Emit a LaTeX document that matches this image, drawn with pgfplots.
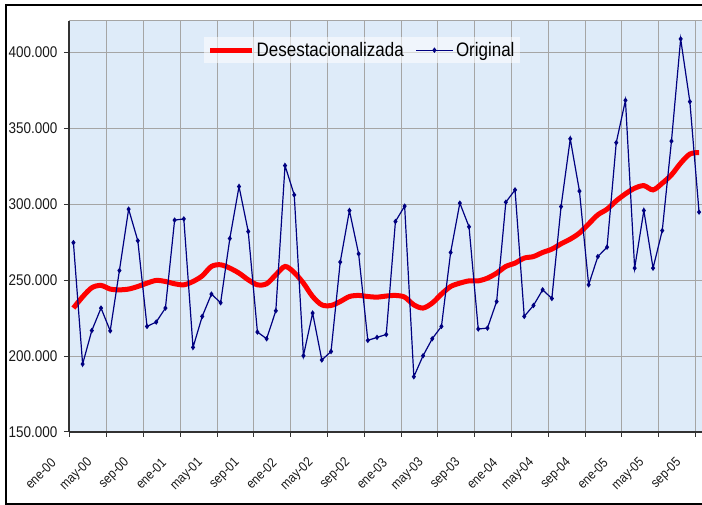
\documentclass[border=0pt]{standalone}
\usepackage{fontspec}
\setmainfont[FakeStretch=0.87]{Liberation Sans}
\usepackage{pgfplots}
\usepackage{pgfplotstable}
\pgfplotsset{compat=1.18}
\definecolor{bgblue}{RGB}{222,235,249}
\definecolor{gridgray}{RGB}{165,165,165}
\definecolor{navyblue}{RGB}{0,0,128}
\definecolor{axisdark}{RGB}{50,50,50}
\pgfplotsset{
  redleg/.style={legend image code/.code={\draw[##1] (0pt,0pt) -- (42pt,0pt);}},
  blueleg/.style={legend image code/.code={\draw[mark repeat=2, mark phase=2, ##1] plot coordinates {(0pt,0pt) (18pt,0pt) (37pt,0pt)};}},
}
\pgfplotstableread{
orig desest
274.7 231.6
194.7 239.0
216.8 245.0
231.6 246.5
216.6 244.1
256.3 243.6
296.7 244.1
275.9 245.8
219.5 248.0
222.4 249.8
231.6 249.1
289.5 247.6
290.3 246.9
205.7 249.1
226.1 252.8
240.8 259.0
235.1 260.1
277.4 257.9
311.6 254.6
282.0 250.2
215.8 246.9
211.4 247.6
229.8 253.5
325.4 259.0
306.1 255.0
200.2 248.0
228.3 239.2
197.4 233.7
203.0 233.3
261.9 235.9
295.8 239.2
267.3 239.9
210.3 239.2
212.3 238.8
214.2 239.5
288.6 239.9
298.7 238.8
186.4 233.7
200.2 231.6
211.4 234.9
219.5 240.8
268.2 245.8
300.7 248.0
285.1 249.5
217.8 249.5
218.4 251.3
235.9 254.6
301.3 259.0
309.4 261.2
226.1 264.5
233.3 265.5
243.6 268.2
237.9 270.4
298.4 273.9
343.0 277.0
308.6 281.0
246.9 287.0
265.5 293.0
271.7 296.7
340.5 302.2
368.4 306.8
257.9 310.5
295.8 312.2
257.9 309.4
282.6 313.8
341.5 319.3
408.8 327.0
367.5 333.0
294.8 334.0
}\datatable

\begin{document}
\begin{tikzpicture}[x=1pt,y=1pt]
\begin{axis}[
  at={(0,0)}, anchor=south west,
  scale only axis, width=633pt, height=411pt,
  xmin=-0.1, xmax=68.7, ymin=150, ymax=420.6,
  xtick={0,4,...,68},
  xticklabels={ene-00,may-00,sep-00,ene-01,may-01,sep-01,ene-02,may-02,sep-02,ene-03,may-03,sep-03,ene-04,may-04,sep-04,ene-05,may-05,sep-05},
  ytick={150,200,...,400},
  yticklabels={150.000,200.000,250.000,300.000,350.000,400.000},
  axis background/.style={fill=bgblue},
  grid=major, grid style={gridgray, line width=1pt},
  axis x line*=bottom, axis y line*=left,
  axis line style={axisdark, line width=1.6pt, -},
  tick align=outside, major tick length=5pt,
  tick style={axisdark, line width=1pt},
  yticklabel style={font=\fontsize{15.5}{15.5}\selectfont, text=black!90, xshift=-3pt},
  xticklabel style={font=\fontsize{13.5}{13.5}\selectfont, text=black!90, xshift=-14pt, yshift=-21pt, rotate=45, anchor=east},
  legend columns=2,
  legend style={at={(0.463,0.929)}, anchor=center, draw=none, fill=white, fill opacity=0.55, text opacity=1, font=\fontsize{19.5}{19.5}\selectfont, inner xsep=4pt, inner ysep=3pt, /tikz/every even column/.append style={column sep=10pt}},
]
\draw[gridgray, line width=1pt] (rel axis cs:0,1) -- (rel axis cs:1,1);
\addplot[red, line width=5pt, smooth, redleg] table[x expr=\coordindex+0.38, y=desest] {\datatable};
\addlegendentry{Desestacionalizada}
\addplot[navyblue, line width=1.2pt, mark=diamond*, mark size=1.8pt, mark options={solid}, blueleg] table[x expr=\coordindex+0.38, y=orig] {\datatable};
\addlegendentry{Original}
\end{axis}
\draw[black, line width=1.5pt] (633,427) -- (-63,427) -- (-63,-72) -- (633,-72);
\pgfresetboundingbox
\path (-69,-73) rectangle (633,432);
\end{tikzpicture}
\end{document}
